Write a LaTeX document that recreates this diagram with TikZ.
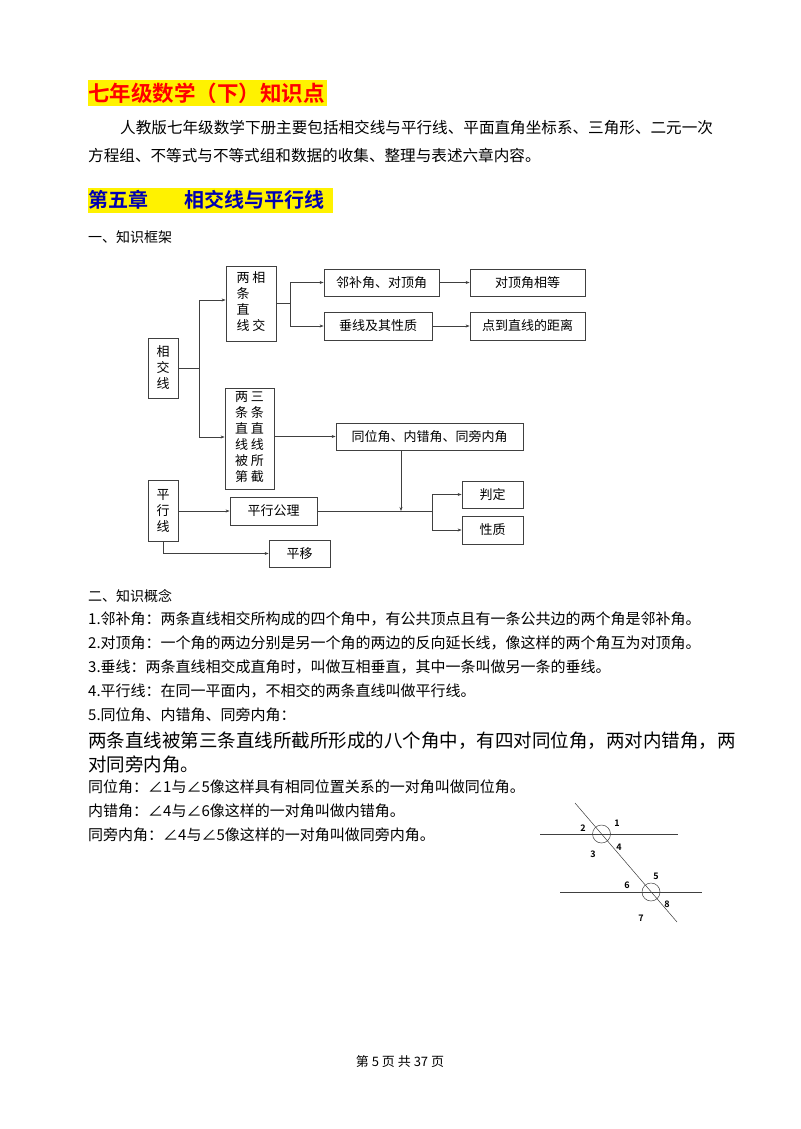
\documentclass[tikz,border=0pt]{standalone}
\usepackage{fontspec}
\setmainfont{Noto Sans CJK SC}[BoldFont={Noto Sans CJK SC Bold}]
\usetikzlibrary{arrows.meta,positioning}
\begin{document}
\begin{tikzpicture}[x=1pt,y=-1pt]
    % Define Styles
        \tikzset{
            block/.style = {
                rectangle,
                draw=black!75,
                line width = 0.8pt,
                inner sep = 1pt,
                align = center,
                font = \fontsize{13}{16}\selectfont
            },
            line/.style = {
                draw = black!75,
                line width = 0.7pt
            },
            arrow/.style = {
                line,
                -{Stealth[length=4pt,width=3pt]}
            },
            txt/.style = {
                anchor = west,
                inner sep = 0pt
            },
            num/.style = {
                inner sep = 0pt,
                font = \fontsize{9}{9}\selectfont\bfseries
            }
        }
        \useasboundingbox (0,0) rectangle (800,1129);
    % Headings and text
        \fill[yellow] (88,80) rectangle (327,106);
        \node [txt, text=red, font=\fontsize{21.5}{22}\selectfont\bfseries] (title) at (88,93) {七年级数学（下）知识点};
        \node [txt, font=\fontsize{15.6}{16}\selectfont] (par1) at (120,128)
            {人教版七年级数学下册主要包括相交线与平行线、平面直角坐标系、三角形、二元一次};
        \node [txt, font=\fontsize{15.6}{16}\selectfont] (par2) at (88,155)
            {方程组、不等式与不等式组和数据的收集、整理与表述六章内容。};
        \fill[yellow] (88,188) rectangle (333,213);
        \node [txt, text=blue!70!black, font=\fontsize{20}{21}\selectfont\bfseries] (chap) at (88,200) {第五章};
        \node [txt, text=blue!70!black, font=\fontsize{20}{21}\selectfont\bfseries] (chapname) at (184,200) {相交线与平行线};
        \node [txt, font=\fontsize{14}{15}\selectfont] (sec1) at (88,237) {一、知识框架};
    % Place nodes
        \node [block, minimum width=30pt, minimum height=60pt] (xjx) at (163,368)
            {相\\交\\线};
        \node [block, minimum width=50pt, minimum height=75pt] (lxxj) at (251,303.5)
            {\begin{tabular}{@{}c@{\hspace{3pt}}c@{}}两&相\\条&\\直&\\线&交\end{tabular}};
        \node [block, minimum width=115pt, minimum height=27pt] (lbj) at (381.5,282.5) {邻补角、对顶角};
        \node [block, minimum width=115pt, minimum height=27pt] (djx) at (527.5,282.5) {对顶角相等};
        \node [block, minimum width=108pt, minimum height=28pt] (cx) at (378,326) {垂线及其性质};
        \node [block, minimum width=115pt, minimum height=28pt] (jl) at (527.5,326) {点到直线的距离};
        \node [block, minimum width=49pt, minimum height=101pt] (bjx) at (249.5,438.5)
            {\begin{tabular}{@{}c@{\hspace{3pt}}c@{}}两&三\\条&条\\直&直\\线&线\\被&所\\第&截\end{tabular}};
        \node [block, minimum width=187pt, minimum height=27pt] (twj) at (429.5,436.5) {同位角、内错角、同旁内角};
        \node [block, minimum width=30pt, minimum height=61pt] (pxx) at (163,510.5)
            {平\\行\\线};
        \node [block, minimum width=87pt, minimum height=28pt] (pxgl) at (273.5,511) {平行公理};
        \node [block, minimum width=61pt, minimum height=27pt] (pd) at (492.5,494.5) {判定};
        \node [block, minimum width=61pt, minimum height=28pt] (xz) at (492.5,530) {性质};
        \node [block, minimum width=61pt, minimum height=27pt] (py) at (299.5,553.5) {平移};
        \coordinate (hub) at (401,511);
    % Draw edges
        \path [line] (xjx.east) -- (199,368);
        \path [arrow] (199,368) |- (lxxj.west |- 0,300);
        \path [arrow] (199,368) |- (bjx.west |- 0,437);
        \path [line] (lxxj.east |- 0,303) -- (290,303);
        \path [arrow] (290,303) |- (lbj.west);
        \path [arrow] (290,303) |- (cx.west);
        \path [arrow] (lbj) -- (djx);
        \path [arrow] (cx) -- (jl);
        \path [arrow] (bjx.east |- twj.west) -- (twj.west);
        \path [arrow] (twj.south -| hub) -- (hub);
        \path [arrow] (pxx.east |- pxgl.west) -- (pxgl.west);
        \path [line] (pxgl.east) -- (432,511);
        \path [arrow] (432,511) |- (pd.west);
        \path [arrow] (432,511) |- (xz.west);
        \path [arrow] (pxx.south) |- (py.west);
    % Concepts
        \node [txt, font=\fontsize{14}{15}\selectfont] (sec2) at (88,596) {二、知识概念};
        \begin{scope}[every node/.style={txt, font=\fontsize{15}{16}\selectfont}]
            \node (c1) at (88,619) {1.邻补角：两条直线相交所构成的四个角中，有公共顶点且有一条公共边的两个角是邻补角。};
            \node (c2) at (88,643) {2.对顶角：一个角的两边分别是另一个角的两边的反向延长线，像这样的两个角互为对顶角。};
            \node (c3) at (88,667) {3.垂线：两条直线相交成直角时，叫做互相垂直，其中一条叫做另一条的垂线。};
            \node (c4) at (88,691) {4.平行线：在同一平面内，不相交的两条直线叫做平行线。};
            \node (c5) at (88,715) {5.同位角、内错角、同旁内角：};
            \node (c8) at (88,787) {同位角：∠1与∠5像这样具有相同位置关系的一对角叫做同位角。};
            \node (c9) at (88,811) {内错角：∠4与∠6像这样的一对角叫做内错角。};
            \node (c10) at (88,835) {同旁内角：∠4与∠5像这样的一对角叫做同旁内角。};
        \end{scope}
        \node [txt, font=\fontsize{18.5}{19}\selectfont] (c6) at (88,741) {两条直线被第三条直线所截所形成的八个角中，有四对同位角，两对内错角，两};
        \node [txt, font=\fontsize{18.5}{19}\selectfont] (c7) at (88,764) {对同旁内角。};
    % Angle figure
        \coordinate (ta) at (575,803);
        \coordinate (tb) at (677,922);
        \coordinate (o1) at (601.5,834);
        \coordinate (o2) at (651,892);
        \draw [line, line width=0.5pt] (540,834) -- (678,834);
        \draw [line, line width=0.5pt] (560,892) -- (702,892);
        \draw [line, line width=0.5pt] (ta) -- (tb);
        \draw [line, line width=0.5pt] (o1) circle (9);
        \draw [line, line width=0.5pt] (o2) circle (9);
        \node [num] (n1) at (617,823) {1};
        \node [num] (n2) at (583,828) {2};
        \node [num] (n3) at (593,854) {3};
        \node [num] (n4) at (619,847) {4};
        \node [num] (n5) at (656,876) {5};
        \node [num] (n6) at (627,885) {6};
        \node [num] (n7) at (641,918) {7};
        \node [num] (n8) at (667,904) {8};
    % Footer
        \node [font=\fontsize{13}{14}\selectfont] (foot) at (400,1062) {第 5 页 共 37 页};
\end{tikzpicture}
\end{document}
